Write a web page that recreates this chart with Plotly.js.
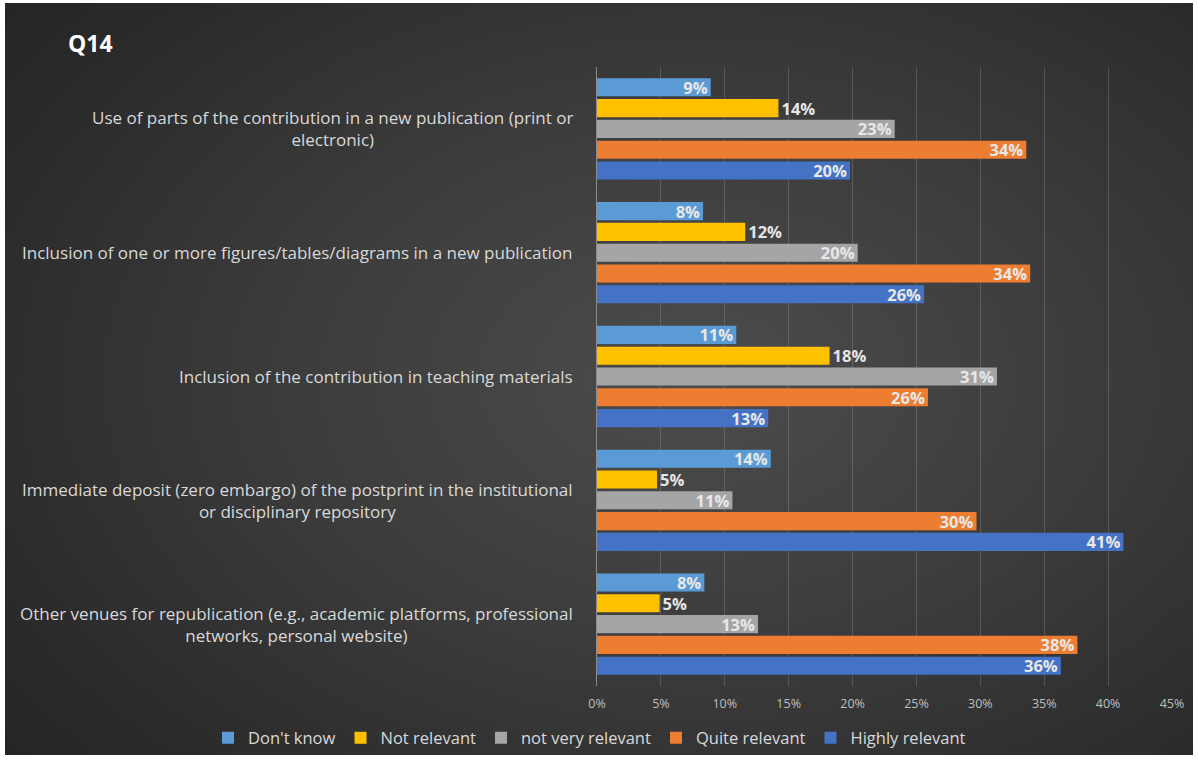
<!DOCTYPE html>
<html>
<head>
<meta charset="utf-8">
<script src="https://cdn.plot.ly/plotly-3.0.1.min.js"></script>
<style>
  html, body { margin: 0; padding: 0; background: #ffffff; }
  #wrap { position: relative; width: 1198px; height: 760px; background: #ffffff; }
  #bg { position: absolute; left: 5px; top: 3px; width: 1188px; height: 752px;
        background: radial-gradient(ellipse 75% 80% at 58% 50%, #4c4c4c 0%, #3c3c3c 45%, #2a2a2a 85%, #252525 100%); }
  #chart { position: absolute; left: 0; top: 0; width: 1198px; height: 760px; }
</style>
</head>
<body>
<div id="wrap"><div id="bg"></div><div id="chart"></div></div>
<script>
const categories = [
  "Use of parts of the contribution in a new publication (print or<br>electronic)",
  "Inclusion of one or more figures/tables/diagrams in a new publication",
  "Inclusion of the contribution in teaching materials",
  "Immediate deposit (zero embargo) of the postprint in the institutional<br>or disciplinary repository",
  "Other venues for republication (e.g., academic platforms, professional<br>networks, personal website)"
];
const seriesNames = ["Don't know", "Not relevant", "not very relevant", "Quite relevant", "Highly relevant"];
const dontKnow       = [8.9, 8.3, 10.9, 13.6, 8.4];
const notRelevant    = [14.2, 11.6, 18.2, 4.7, 4.9];
const notVeryRelevant= [23.3, 20.4, 31.3, 10.6, 12.6];
const quiteRelevant  = [33.6, 33.9, 25.9, 29.7, 37.6];
const highlyRelevant = [19.8, 25.6, 13.4, 41.2, 36.3];
const xTickVals = [0, 5, 10, 15, 20, 25, 30, 35, 40, 45];
const xTickText = ["0%", "5%", "10%", "15%", "20%", "25%", "30%", "35%", "40%", "45%"];

const colors = ["#5b9bd5", "#ffc000", "#a5a5a5", "#ed7d31", "#4472c4"];
const seriesValues = [dontKnow, notRelevant, notVeryRelevant, quiteRelevant, highlyRelevant];

const traces = seriesValues.map((vals, i) => ({
  type: "bar",
  orientation: "h",
  name: seriesNames[i],
  y: categories,
  x: vals,
  marker: { color: colors[i] },
  texttemplate: "%{x:.0f}%",
  textposition: i === 1 ? "outside" : "inside",
  insidetextanchor: "end",
  constraintext: "none",
  cliponaxis: false,
  textangle: 0,
  textfont: { family: "Open Sans, sans-serif", size: 16.5, color: i === 1 ? "#e6e6e6" : "#e8e8e8", weight: "bold" },
  hoverinfo: "skip"
}));

const annotations = categories.map((c, i) => ({
  xref: "paper", yref: "y", x: 0, y: c,
  xanchor: "right", yanchor: "middle", xshift: -22,
  align: "center", showarrow: false, text: c,
  font: { family: "Open Sans, sans-serif", size: 17, color: "#d9d9d9" }
}));
annotations.push({
  xref: "paper", yref: "paper", x: -597/575 + 66/575, y: 1 + (67 - 43) / 619,
  xanchor: "left", yanchor: "middle", showarrow: false, text: "<b>Q14</b>",
  font: { family: "Open Sans, sans-serif", size: 23, color: "#ffffff" }
});

const layout = {
  width: 1198, height: 760,
  paper_bgcolor: "rgba(0,0,0,0)", plot_bgcolor: "rgba(0,0,0,0)",
  margin: { l: 597, r: 26, t: 67, b: 74, autoexpand: false },
  barmode: "group", bargap: 0.16, bargroupgap: 0.13,
  showlegend: true,
  legend: {
    orientation: "h",
    x: (208 - 597) / 575, y: -(738 - 686) / 619, xanchor: "left", yanchor: "middle",
    font: { family: "Open Sans, sans-serif", size: 16.5, color: "#d9d9d9" },
    traceorder: "normal", itemwidth: 30, bgcolor: "rgba(0,0,0,0)"
  },
  xaxis: {
    type: "linear",
    range: [0, 45], tickmode: "array", tickvals: xTickVals, ticktext: xTickText,
    showgrid: true, gridcolor: "rgba(255,255,255,0.16)", gridwidth: 1,
    zeroline: false, ticks: "", ticklabelstandoff: 8,
    tickfont: { family: "Open Sans, sans-serif", size: 12.5, color: "#bfbfbf" },
    fixedrange: true
  },
  yaxis: {
    type: "category", categoryorder: "array", categoryarray: categories,
    autorange: "reversed", showticklabels: false, showgrid: false,
    showline: true, linecolor: "#8c8c8c", linewidth: 1, ticks: "", zeroline: false,
    fixedrange: true
  },
  annotations: annotations
};

Plotly.newPlot("chart", traces, layout, { displayModeBar: false, staticPlot: true });
</script>
</body>
</html>
